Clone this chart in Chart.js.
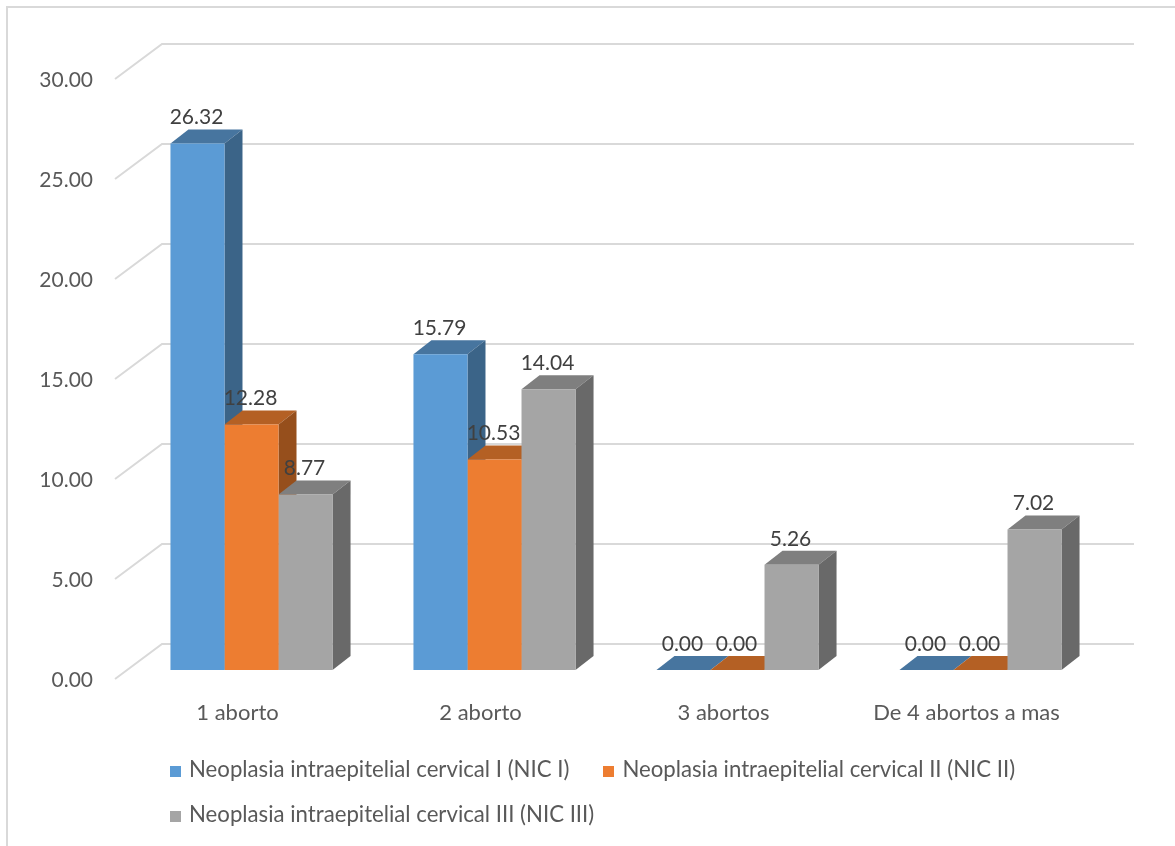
<!DOCTYPE html>
<html>
<head>
<meta charset="utf-8">
<title>Neoplasia intraepitelial cervical</title>
<script src="https://cdn.jsdelivr.net/npm/chart.js@4"></script>
<style>
  html, body { margin: 0; background: #fff; }
  #wrap { position: relative; width: 1175px; height: 846px; overflow: hidden; }
  #frame { position: absolute; left: 6px; top: 6px; width: 1300px; height: 1000px; border: 2px solid #d9d9d9; }
  canvas { position: absolute; left: 0; top: 0; }
  #legend { position: absolute; left: 170px; top: 746px; width: 880px; display: flex; flex-wrap: wrap; column-gap: 34px; font: 22.2px Lato, sans-serif; color: #595959; }
  #legend div { height: 45px; line-height: 45px; white-space: nowrap; }
  #legend i { display: inline-block; width: 11px; height: 11px; margin-right: 8px; }
</style>
</head>
<body>
<div id="wrap">
  <div id="frame"></div>
  <canvas id="chart" width="1175" height="846"></canvas>
  <div id="legend"></div>
</div>
<script>
var categories = ["1 aborto", "2 aborto", "3 abortos", "De 4 abortos a mas"];
var nic1 = [26.32, 15.79, 0, 0];
var nic2 = [12.28, 10.53, 0, 0];
var nic3 = [8.77, 14.04, 5.26, 7.02];
var seriesNames = [
  "Neoplasia intraepitelial cervical I (NIC I)",
  "Neoplasia intraepitelial cervical II (NIC II)",
  "Neoplasia intraepitelial cervical III (NIC III)"
];

var font = "Lato, sans-serif";
var fronts = ["#5b9bd5", "#ed7d31", "#a5a5a5"];
var tops = ["#47759f", "#b46024", "#7f7f7f"];
var sides = ["#3b6488", "#964f1c", "#696969"];

// Depth of the bars
var barDx = 18, barDy = 14;

// Back wall lines, then top and side faces of the bars
// (the library draws the fronts afterwards, so they cover the neighbour's side)
var depthPlugin = {
  id: "depth",
  beforeDatasetsDraw: function (chart) {
    var ctx = chart.ctx, y = chart.scales.y, area = chart.chartArea;
    ctx.save();
    ctx.strokeStyle = "#d9d9d9";
    ctx.lineWidth = 2;
    y.ticks.forEach(function (t) {
      var py = y.getPixelForValue(t.value);
      ctx.beginPath();
      ctx.moveTo(area.left - 15, py + 9);
      ctx.lineTo(area.left + 32, py - 26);
      ctx.lineTo(area.right + 32, py - 26);
      ctx.stroke();
    });
    chart.data.datasets.forEach(function (ds, i) {
      chart.getDatasetMeta(i).data.forEach(function (bar) {
        var left = bar.x - bar.width / 2, right = bar.x + bar.width / 2;
        ctx.fillStyle = tops[i];
        ctx.beginPath();
        ctx.moveTo(left, bar.y);
        ctx.lineTo(left + barDx, bar.y - barDy);
        ctx.lineTo(right + barDx, bar.y - barDy);
        ctx.lineTo(right, bar.y);
        ctx.closePath();
        ctx.fill();
        if (bar.base - bar.y > 0.5) {
          ctx.fillStyle = sides[i];
          ctx.beginPath();
          ctx.moveTo(right, bar.y);
          ctx.lineTo(right + barDx, bar.y - barDy);
          ctx.lineTo(right + barDx, bar.base - barDy);
          ctx.lineTo(right, bar.base);
          ctx.closePath();
          ctx.fill();
        }
      });
    });
    ctx.restore();
  },
  afterDatasetsDraw: function (chart) {
    var ctx = chart.ctx;
    ctx.save();
    ctx.font = "21px " + font;
    ctx.fillStyle = "#404040";
    ctx.textAlign = "center";
    ctx.textBaseline = "middle";
    chart.data.datasets.forEach(function (ds, i) {
      chart.getDatasetMeta(i).data.forEach(function (bar, j) {
        ctx.fillText(ds.data[j].toFixed(2), bar.x - 1, bar.y - barDy - 12);
      });
    });
    ctx.restore();
  }
};

var myChart = new Chart(document.getElementById("chart").getContext("2d"), {
  type: "bar",
  data: {
    labels: categories,
    datasets: [
      { label: seriesNames[0], data: nic1, backgroundColor: fronts[0] },
      { label: seriesNames[1], data: nic2, backgroundColor: fronts[1] },
      { label: seriesNames[2], data: nic3, backgroundColor: fronts[2] }
    ]
  },
  options: {
    responsive: false,
    animation: false,
    barPercentage: 1,
    categoryPercentage: 0.667,
    layout: { padding: { top: 70, right: 73, bottom: 0, left: 0 } },
    plugins: { legend: { display: false }, tooltip: { enabled: false } },
    scales: {
      x: {
        grid: { display: false },
        border: { display: false },
        ticks: { padding: 22, labelOffset: -14, maxRotation: 0, color: "#595959", font: { family: font, size: 22 } },
        afterFit: function (scale) { scale.height = 176; }
      },
      y: {
        min: 0,
        max: 30,
        grid: { display: false, drawTicks: false },
        border: { display: false },
        ticks: {
          stepSize: 5,
          padding: 37,
          labelOffset: 10,
          color: "#595959",
          font: { family: font, size: 21 },
          callback: function (v) { return v.toFixed(2); }
        },
        afterFit: function (scale) { scale.width = 130; }
      }
    }
  },
  plugins: [depthPlugin]
});

// Legend
var legendContainer = document.getElementById("legend");
myChart.legend.legendItems.forEach(function (item) {
  var row = document.createElement("div");
  var icon = document.createElement("i");
  icon.style.background = item.fillStyle;
  row.appendChild(icon);
  row.appendChild(document.createTextNode(item.text));
  legendContainer.appendChild(row);
});
</script>
</body>
</html>
